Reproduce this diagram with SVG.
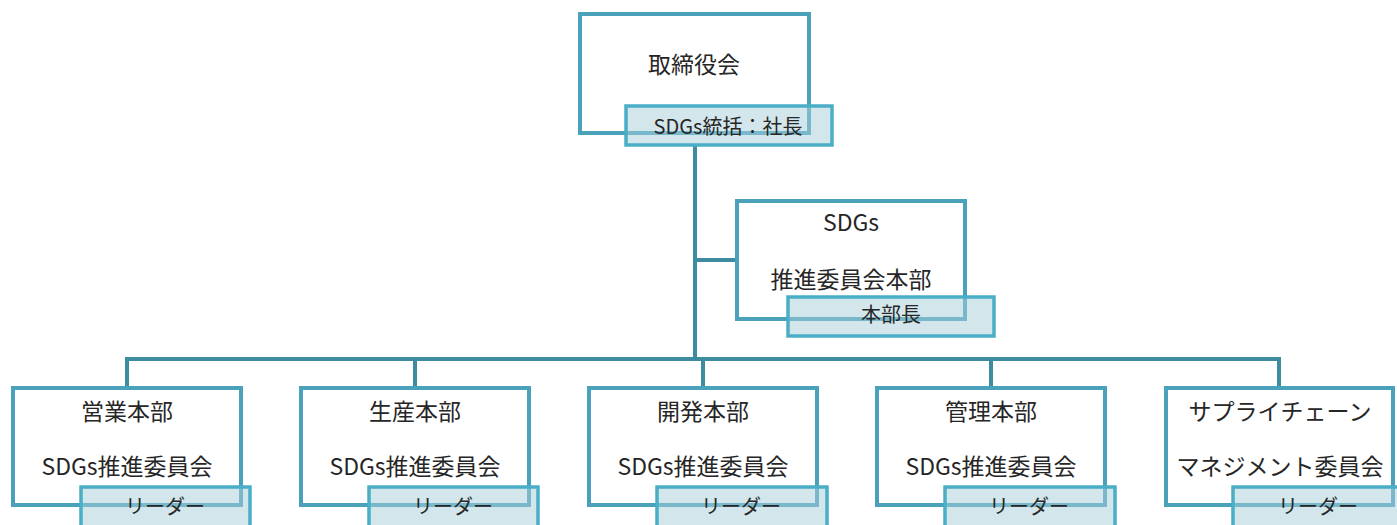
<svg xmlns="http://www.w3.org/2000/svg" width="1397" height="525" viewBox="0 0 1397 525">
<style>
.box{fill:#ffffff;stroke:#4aa2ba;stroke-width:4}
.lbl{fill:#a7cdd9;fill-opacity:0.5;stroke:#4aaec6;stroke-width:3.5}
.t{font-family:"Noto Sans CJK JP","Noto Sans",sans-serif;font-size:23px;fill:#262626;text-anchor:middle;dominant-baseline:central}
.s{font-family:"Noto Sans CJK JP","Noto Sans",sans-serif;font-size:20px;fill:#262626;text-anchor:middle;dominant-baseline:central}
.c{fill:none;stroke:#3e8c9f;stroke-width:4}
</style>
<g id="connectors">
<path class="c" d="M695 145V359"/>
<path class="c" d="M695 260H737"/>
<path class="c" d="M127 387V359H1279V387"/>
<path class="c" d="M415 359V387"/>
<path class="c" d="M703 359V387"/>
<path class="c" d="M991 359V387"/>
</g>
<g id="board">
<rect class="box" x="580" y="14" width="229" height="119"/>
<text class="t" x="694" y="63">取締役会</text>
<rect class="lbl" x="626" y="106" width="206" height="39"/>
<text class="s" x="728" y="125">SDGs統括：社長</text>
</g>
<g id="sdgs-hq">
<rect class="box" x="737" y="201" width="228" height="118"/>
<text class="t" x="851" y="221">SDGs</text>
<text class="t" x="851" y="278">推進委員会本部</text>
<rect class="lbl" x="788" y="297" width="206" height="39"/>
<text class="s" x="891" y="313">本部長</text>
</g>
<g id="sales">
<rect class="box" x="13" y="388" width="228" height="117"/>
<text class="t" x="127" y="410">営業本部</text>
<text class="t" x="127" y="465">SDGs推進委員会</text>
<rect class="lbl" x="81" y="487" width="169" height="40"/>
<text class="s" x="165" y="505">リーダー</text>
</g>
<g id="production">
<rect class="box" x="301" y="388" width="228" height="117"/>
<text class="t" x="415" y="410">生産本部</text>
<text class="t" x="415" y="465">SDGs推進委員会</text>
<rect class="lbl" x="369" y="487" width="169" height="40"/>
<text class="s" x="453" y="505">リーダー</text>
</g>
<g id="development">
<rect class="box" x="589" y="388" width="228" height="117"/>
<text class="t" x="703" y="410">開発本部</text>
<text class="t" x="703" y="465">SDGs推進委員会</text>
<rect class="lbl" x="657" y="487" width="170" height="40"/>
<text class="s" x="741" y="505">リーダー</text>
</g>
<g id="management">
<rect class="box" x="877" y="388" width="228" height="117"/>
<text class="t" x="991" y="410">管理本部</text>
<text class="t" x="991" y="465">SDGs推進委員会</text>
<rect class="lbl" x="945" y="487" width="170" height="40"/>
<text class="s" x="1029" y="505">リーダー</text>
</g>
<g id="supply-chain">
<rect class="box" x="1166" y="388" width="227" height="117"/>
<text class="t" x="1280" y="410">サプライチェーン</text>
<text class="t" x="1280" y="465">マネジメント委員会</text>
<rect class="lbl" x="1233" y="487" width="170" height="40"/>
<text class="s" x="1318" y="505">リーダー</text>
</g>
</svg>
